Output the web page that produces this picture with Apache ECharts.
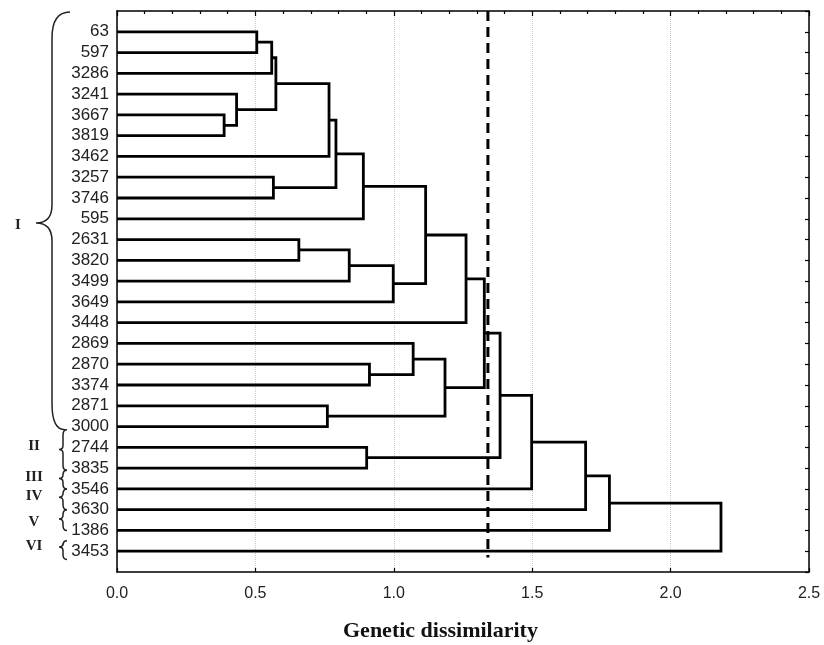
<!DOCTYPE html>
<html>
<head>
<meta charset="utf-8">
<script src="https://cdn.jsdelivr.net/npm/echarts@6/dist/echarts.min.js"></script>
<style>
  html, body { margin: 0; padding: 0; background: #fff; }
  #chart { width: 824px; height: 645px; }
</style>
</head>
<body>
<div id="chart"></div>
<script>
// leaf labels, top to bottom
const leaves = ['63', '597', '3286', '3241', '3667', '3819', '3462', '3257', '3746', '595',
  '2631', '3820', '3499', '3649', '3448', '2869', '2870', '3374', '2871', '3000',
  '2744', '3835', '3546', '3630', '1386', '3453'];

// merges: index < 26 is a leaf, otherwise cluster (26 + merge index)
const mergeLeft = [0, 26, 4, 3, 27, 30, 7, 31, 33, 10, 35, 36, 34, 38, 16, 15, 18, 41, 39, 20, 44, 46, 47, 48, 49];
const mergeRight = [1, 2, 5, 28, 29, 6, 8, 32, 9, 11, 12, 13, 37, 14, 17, 40, 19, 42, 43, 21, 45, 22, 23, 24, 25];
const mergeHeight = [0.505, 0.559, 0.387, 0.432, 0.574, 0.766, 0.565, 0.791, 0.890, 0.657, 0.839, 0.998,
  1.115, 1.261, 0.912, 1.070, 0.760, 1.185, 1.327, 0.902, 1.384, 1.498, 1.693, 1.779, 2.182];

const cutOff = 1.34;

// groups (rows on the leaf axis)
const groupNames = ['I', 'II', 'III', 'IV', 'V', 'VI'];
const groupStart = [0.05, 20.15, 22.1, 23.0, 24.0, 25.5];
const groupTip = [10.2, 21.1, 22.5, 23.4, 24.45, 25.8];
const groupEnd = [20.15, 22.1, 23.0, 24.0, 25.0, 26.4];
const groupLabelRow = [10.3, 20.95, 22.45, 23.35, 24.6, 25.75];

// positions of nodes
const nodePos = leaves.map((_, i) => i + 1);
const nodeH = leaves.map(() => 0);
const links = [];
mergeLeft.forEach((l, i) => {
  const r = mergeRight[i];
  const h = mergeHeight[i];
  links.push([nodeH[l], nodePos[l], nodeH[r], nodePos[r], h]);
  nodePos.push((nodePos[l] + nodePos[r]) / 2);
  nodeH.push(h);
});

const braces = groupNames.map((n, i) => [groupStart[i], groupTip[i], groupEnd[i], i, groupLabelRow[i]]);

const chart = echarts.init(document.getElementById('chart'));

const option = {
  animation: false,
  grid: { left: 117, right: 15, top: 11, bottom: 73 },
  xAxis: [{
    type: 'value',
    min: 0,
    max: 2.5,
    interval: 0.5,
    axisLine: { onZero: false, lineStyle: { color: '#000', width: 1.5 } },
    axisTick: { inside: true, length: 4, lineStyle: { color: '#000', width: 1.2 } },
    axisLabel: {
      margin: 14,
      color: '#222',
      fontSize: 16,
      fontFamily: 'Liberation Sans',
      formatter: v => v.toFixed(1)
    },
    splitLine: { show: true, lineStyle: { color: '#c8c8c8', type: 'dotted', width: 1 } }
  }, {
    type: 'value',
    position: 'top',
    min: 0,
    max: 2.5,
    interval: 0.5,
    axisLine: { show: true, onZero: false, lineStyle: { color: '#000', width: 1.5 } },
    axisTick: { show: true, inside: true, length: 5, lineStyle: { color: '#000', width: 1.2 } },
    minorTick: { show: true, splitNumber: 5, length: 3, lineStyle: { color: '#000', width: 1.2 } },
    axisLabel: { show: false },
    splitLine: { show: false }
  }],
  yAxis: [{
    type: 'value',
    inverse: true,
    min: 0,
    max: 27,
    interval: 1,
    axisLine: { show: true, onZero: false, lineStyle: { color: '#000', width: 1.5 } },
    axisTick: { show: false },
    axisLabel: {
      margin: 8,
      color: '#222',
      fontSize: 17,
      fontFamily: 'Liberation Sans',
      formatter: v => leaves[v - 1] || ''
    },
    splitLine: { show: false }
  }, {
    type: 'value',
    position: 'right',
    inverse: true,
    min: 0,
    max: 27,
    interval: 1,
    axisLine: { show: true, onZero: false, lineStyle: { color: '#000', width: 1.5 } },
    axisTick: { show: true, inside: true, length: 4, lineStyle: { color: '#000', width: 1.2 } },
    axisLabel: { show: false },
    splitLine: { show: false }
  }],
  series: [{
    type: 'custom',
    xAxisIndex: 0,
    yAxisIndex: 0,
    encode: { x: [0, 2, 4], y: [1, 3] },
    data: links,
    renderItem: (params, api) => {
      const a = api.coord([api.value(0), api.value(1)]);
      const a2 = api.coord([api.value(4), api.value(1)]);
      const b2 = api.coord([api.value(4), api.value(3)]);
      const b = api.coord([api.value(2), api.value(3)]);
      return {
        type: 'polyline',
        shape: { points: [a, a2, b2, b] },
        style: { stroke: '#000', lineWidth: 2.8, fill: null, lineJoin: 'miter' }
      };
    }
  }, {
    type: 'line',
    xAxisIndex: 0,
    yAxisIndex: 0,
    symbol: 'none',
    data: [[cutOff, 0], [cutOff, 26.3]],
    lineStyle: { color: '#000', width: 3, type: [10, 6] }
  }, {
    type: 'custom',
    xAxisIndex: 0,
    yAxisIndex: 0,
    clip: false,
    encode: { y: [0, 2] },
    data: braces,
    renderItem: (params, api) => {
      const big = api.value(3) === 0;
      const x0 = api.coord([0, 0])[0];
      const y1 = api.coord([0, api.value(0)])[1];
      const ym = api.coord([0, api.value(1)])[1];
      const y2 = api.coord([0, api.value(2)])[1];
      const ly = api.coord([0, api.value(4)])[1];
      const xv = big ? x0 - 65 : x0 - 54;
      const xt = big ? x0 - 81 : x0 - 58;
      const xh1 = big ? x0 - 47 : x0 - 50;
      const xh2 = big ? x0 - 52 : x0 - 50;
      const r = big ? 26 : Math.min(5, (y2 - y1) / 4);
      const rt = big ? 18 : Math.min(4, (y2 - y1) / 5);
      const d = 'M' + xh1 + ',' + y1 +
        ' Q' + xv + ',' + y1 + ' ' + xv + ',' + (y1 + r) +
        ' L' + xv + ',' + (ym - rt) +
        ' Q' + xv + ',' + ym + ' ' + xt + ',' + ym +
        ' Q' + xv + ',' + ym + ' ' + xv + ',' + (ym + rt) +
        ' L' + xv + ',' + (y2 - r) +
        ' Q' + xv + ',' + y2 + ' ' + xh2 + ',' + y2;
      return {
        type: 'group',
        children: [{
          type: 'path',
          shape: { pathData: d },
          style: { stroke: '#222', lineWidth: 1.5, fill: null }
        }, {
          type: 'text',
          style: {
            text: groupNames[api.value(3)],
            x: big ? x0 - 99 : x0 - 83,
            y: ly,
            align: 'center',
            verticalAlign: 'middle',
            fill: '#222',
            font: 'bold 15px "Liberation Serif"'
          }
        }]
      };
    }
  }],
  graphic: [{
    type: 'text',
    left: 343,
    top: 620,
    style: {
      text: 'Genetic dissimilarity',
      fill: '#111',
      font: 'bold 22px "Liberation Serif"'
    }
  }]
};

chart.setOption(option);
</script>
</body>
</html>
